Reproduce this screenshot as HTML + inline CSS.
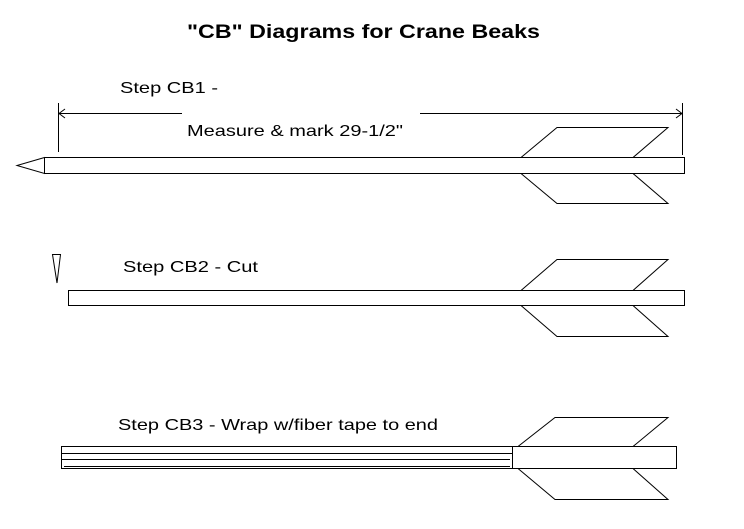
<!DOCTYPE html>
<html><head><style>
html,body{margin:0;padding:0;background:#fff;}
svg{display:block;}
text{font-family:"Liberation Sans",Arial,sans-serif;fill:#000;}
</style></head><body>
<svg width="744" height="529" viewBox="0 0 744 529" xmlns="http://www.w3.org/2000/svg">
<g shape-rendering="crispEdges" stroke="#000" stroke-width="1" fill="none">
</g>
<text x="187" y="38" font-size="19" font-weight="bold" textLength="353" lengthAdjust="spacingAndGlyphs">"CB" Diagrams for Crane Beaks</text>
<text x="120" y="93" font-size="16" textLength="98" lengthAdjust="spacingAndGlyphs">Step CB1 -</text>
<text x="187" y="136" font-size="16" textLength="216" lengthAdjust="spacingAndGlyphs">Measure &amp; mark 29-1/2"</text>
<text x="123" y="272" font-size="16" textLength="135" lengthAdjust="spacingAndGlyphs">Step CB2 - Cut</text>
<text x="118" y="430" font-size="16" textLength="320" lengthAdjust="spacingAndGlyphs">Step CB3 - Wrap w/fiber tape to end</text>
<g stroke="#000" stroke-width="1" fill="none">
<!-- dimension -->
<line x1="58.5" y1="103" x2="58.5" y2="152"/>
<line x1="682.5" y1="103" x2="682.5" y2="155"/>
<line x1="59" y1="113.5" x2="182" y2="113.5"/>
<line x1="420" y1="113.5" x2="682" y2="113.5"/>
<polyline points="65,109 59,113.5 65,118"/>
<polyline points="676,109 682,113.5 676,118"/>
<!-- arrow 1 -->
<rect x="44.5" y="157.5" width="640" height="16" fill="#fff"/>
<polygon points="44.5,157.5 17,165.5 44.5,173.5"/>
<polyline points="521,157.5 557,127.5 668,127.5 633,157.5"/>
<polyline points="521,173.5 557,203.5 668,203.5 633,173.5"/>
<!-- arrow 2 -->
<polygon points="52.5,254.5 60.5,254.5 57,283"/>
<rect x="68.5" y="290.5" width="616" height="15" fill="#fff"/>
<polyline points="521,290.5 557,259.5 668,259.5 633,290.5"/>
<polyline points="521,305.5 557,336.5 668,336.5 633,305.5"/>
<!-- arrow 3 -->
<rect x="61.5" y="446.5" width="615" height="22" fill="#fff"/>
<line x1="512.5" y1="446" x2="512.5" y2="469"/>
<line x1="62" y1="453.5" x2="512" y2="453.5"/>
<line x1="62" y1="459.5" x2="510" y2="459.5"/>
<line x1="64" y1="466.5" x2="510" y2="466.5"/>
<polyline points="518,446.5 555,417.5 668,417.5 633,446.5"/>
<polyline points="518,468.5 555,499.5 668,499.5 633,468.5"/>
</g>
</svg>
</body></html>
